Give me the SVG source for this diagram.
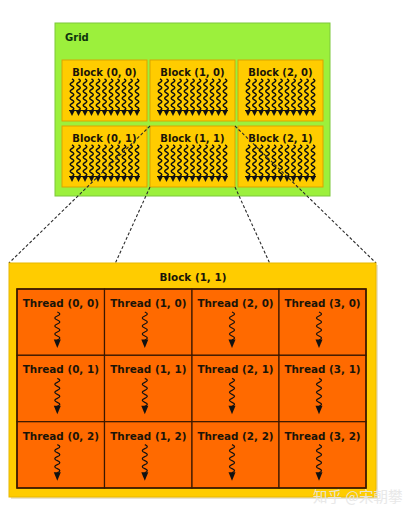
<svg xmlns="http://www.w3.org/2000/svg" xmlns:xlink="http://www.w3.org/1999/xlink" width="409" height="516" viewBox="0 0 409 516">
<style>
.lbl{font-family:"DejaVu Sans",Verdana,sans-serif;font-weight:bold;fill:#1a1408;text-anchor:middle}
.blk{fill:#FFCC00;stroke:#d9a400;stroke-width:1}
.thr{fill:#FF6A00;stroke:#3a1800;stroke-width:1.2}
.sq{fill:none;stroke:#111;stroke-width:1.5}
.sqt{fill:none;stroke:#111;stroke-width:1.3}
.ah{fill:#111}
.con{fill:none;stroke:#2a2a2a;stroke-width:1.1;stroke-dasharray:3 2}
</style>
<defs>
<path id="sqs" class="sq" d="M0,0 q3.6,1.75 0,3.5 t0,3.5 t0,3.5 t0,3.5 t0,3.5 t0,3.5 t0,3.5 t0,3.5 t0,3.5"/>
<g id="tex">
<use xlink:href="#sqs" x="10" y="19"/><use xlink:href="#sqs" x="16.5" y="19"/><use xlink:href="#sqs" x="23" y="19"/><use xlink:href="#sqs" x="29.5" y="19"/><use xlink:href="#sqs" x="36" y="19"/><use xlink:href="#sqs" x="42.5" y="19"/><use xlink:href="#sqs" x="49" y="19"/><use xlink:href="#sqs" x="55.5" y="19"/><use xlink:href="#sqs" x="62" y="19"/><use xlink:href="#sqs" x="68.5" y="19"/><use xlink:href="#sqs" x="75" y="19"/>
<path class="ah" d="M7,50 h71 v1 h-71z"/>
<polygon class="ah" points="7,50 13,50 10,56"/><polygon class="ah" points="13.5,50 19.5,50 16.5,56"/><polygon class="ah" points="20,50 26,50 23,56"/><polygon class="ah" points="26.5,50 32.5,50 29.5,56"/><polygon class="ah" points="33,50 39,50 36,56"/><polygon class="ah" points="39.5,50 45.5,50 42.5,56"/><polygon class="ah" points="46,50 52,50 49,56"/><polygon class="ah" points="52.5,50 58.5,50 55.5,56"/><polygon class="ah" points="59,50 65,50 62,56"/><polygon class="ah" points="65.5,50 71.5,50 68.5,56"/><polygon class="ah" points="72,50 78,50 75,56"/>
</g>
<g id="tsq">
<path class="sqt" d="M0,0 q5,2 0,4 t0,4 t0,4 t0,4 t0,4 t0,4 t0,4"/>
<polygon class="ah" points="-3.5,27.5 3.5,27.5 0,36"/>
</g>
</defs>
<rect width="409" height="516" fill="#ffffff"/>

<g id="grid">
<rect x="55" y="23" width="275" height="173" fill="#9cf03c" stroke="#7cc83a" stroke-width="1"/>
<text x="65" y="41" class="lbl" style="font-size:10px;text-anchor:start;fill:#0e330e">Grid</text>
</g>

<g id="block-0-0"><rect class="blk" x="62" y="60" width="85" height="61"/><text class="lbl" x="104.5" y="75.5" font-size="10">Block (0, 0)</text><use xlink:href="#tex" x="62" y="60"/></g>
<g id="block-1-0"><rect class="blk" x="150" y="60" width="85" height="61"/><text class="lbl" x="192.5" y="75.5" font-size="10">Block (1, 0)</text><use xlink:href="#tex" x="150" y="60"/></g>
<g id="block-2-0"><rect class="blk" x="238" y="60" width="85" height="61"/><text class="lbl" x="280.5" y="75.5" font-size="10">Block (2, 0)</text><use xlink:href="#tex" x="238" y="60"/></g>
<g id="block-0-1"><rect class="blk" x="62" y="126" width="85" height="61"/><text class="lbl" x="104.5" y="141.5" font-size="10">Block (0, 1)</text><use xlink:href="#tex" x="62" y="126"/></g>
<g id="block-1-1"><rect class="blk" x="150" y="126" width="85" height="61"/><text class="lbl" x="192.5" y="141.5" font-size="10">Block (1, 1)</text><use xlink:href="#tex" x="150" y="126"/></g>
<g id="block-2-1"><rect class="blk" x="238" y="126" width="85" height="61"/><text class="lbl" x="280.5" y="141.5" font-size="10">Block (2, 1)</text><use xlink:href="#tex" x="238" y="126"/></g>

<g id="connectors">
<line class="con" x1="150" y1="126" x2="9" y2="263"/>
<line class="con" x1="150" y1="187" x2="115.4" y2="263"/>
<line class="con" x1="235" y1="187" x2="269.6" y2="263"/>
<line class="con" x1="235" y1="126" x2="376" y2="263"/>
</g>

<g id="block-detail">
<rect x="11" y="265" width="367" height="234" fill="#d8d0b0" opacity="0.6"/>
<rect x="9" y="263" width="367" height="234" fill="#FFCC00" stroke="#e8b800" stroke-width="1"/>
<text class="lbl" x="193" y="281" font-size="10.4">Block (1, 1)</text>
</g>

<g id="thread-0-0"><rect class="thr" x="17" y="289" width="87.5" height="66.3"/><text class="lbl" x="60.8" y="307" font-size="10.4">Thread (0, 0)</text><use xlink:href="#tsq" x="57.3" y="312"/></g>
<g id="thread-1-0"><rect class="thr" x="104.5" y="289" width="87.5" height="66.3"/><text class="lbl" x="148.3" y="307" font-size="10.4">Thread (1, 0)</text><use xlink:href="#tsq" x="144.8" y="312"/></g>
<g id="thread-2-0"><rect class="thr" x="192" y="289" width="87" height="66.3"/><text class="lbl" x="235.5" y="307" font-size="10.4">Thread (2, 0)</text><use xlink:href="#tsq" x="232" y="312"/></g>
<g id="thread-3-0"><rect class="thr" x="279" y="289" width="87" height="66.3"/><text class="lbl" x="322.5" y="307" font-size="10.4">Thread (3, 0)</text><use xlink:href="#tsq" x="319" y="312"/></g>

<g id="thread-0-1"><rect class="thr" x="17" y="355.3" width="87.5" height="66.4"/><text class="lbl" x="60.8" y="373.3" font-size="10.4">Thread (0, 1)</text><use xlink:href="#tsq" x="57.3" y="378.3"/></g>
<g id="thread-1-1"><rect class="thr" x="104.5" y="355.3" width="87.5" height="66.4"/><text class="lbl" x="148.3" y="373.3" font-size="10.4">Thread (1, 1)</text><use xlink:href="#tsq" x="144.8" y="378.3"/></g>
<g id="thread-2-1"><rect class="thr" x="192" y="355.3" width="87" height="66.4"/><text class="lbl" x="235.5" y="373.3" font-size="10.4">Thread (2, 1)</text><use xlink:href="#tsq" x="232" y="378.3"/></g>
<g id="thread-3-1"><rect class="thr" x="279" y="355.3" width="87" height="66.4"/><text class="lbl" x="322.5" y="373.3" font-size="10.4">Thread (3, 1)</text><use xlink:href="#tsq" x="319" y="378.3"/></g>

<g id="thread-0-2"><rect class="thr" x="17" y="421.7" width="87.5" height="66.3"/><text class="lbl" x="60.8" y="439.7" font-size="10.4">Thread (0, 2)</text><use xlink:href="#tsq" x="57.3" y="444.7"/></g>
<g id="thread-1-2"><rect class="thr" x="104.5" y="421.7" width="87.5" height="66.3"/><text class="lbl" x="148.3" y="439.7" font-size="10.4">Thread (1, 2)</text><use xlink:href="#tsq" x="144.8" y="444.7"/></g>
<g id="thread-2-2"><rect class="thr" x="192" y="421.7" width="87" height="66.3"/><text class="lbl" x="235.5" y="439.7" font-size="10.4">Thread (2, 2)</text><use xlink:href="#tsq" x="232" y="444.7"/></g>
<g id="thread-3-2"><rect class="thr" x="279" y="421.7" width="87" height="66.3"/><text class="lbl" x="322.5" y="439.7" font-size="10.4">Thread (3, 2)</text><use xlink:href="#tsq" x="319" y="444.7"/></g>

<rect x="17" y="289" width="349" height="199" fill="none" stroke="#3a1800" stroke-width="1.5"/>

<text x="313" y="502" style="font-family:'Noto Sans CJK SC','Noto Sans',sans-serif;font-size:14.5px;fill:#e6e6e6;opacity:0.9">知乎 @宋朝攀</text>
</svg>
